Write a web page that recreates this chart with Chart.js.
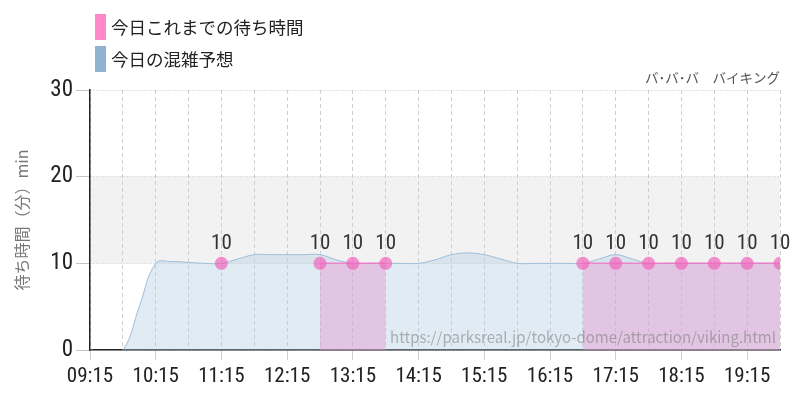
<!DOCTYPE html>
<html>
<head>
<meta charset="utf-8">
<script src="https://cdn.jsdelivr.net/npm/chart.js@4/dist/chart.umd.min.js"></script>
<style>
  body { margin: 0; background: #fff; }
</style>
</head>
<body>
<canvas id="waitChart" width="800" height="400"></canvas>
<script>
// x axis tick labels (hourly)
const hourLabels = ['09:15', '10:15', '11:15', '12:15', '13:15', '14:15', '15:15', '16:15', '17:15', '18:15', '19:15'];

// forecast (blue), every 15 min from 09:15 to 19:45
const forecastTimes = [
  '09:15', '09:30', '09:45', '10:00', '10:15', '10:30', '10:45', '11:00', '11:15', '11:30', '11:45',
  '12:00', '12:15', '12:30', '12:45', '13:00', '13:15', '13:30', '13:45', '14:00', '14:15', '14:30',
  '14:45', '15:00', '15:15', '15:30', '15:45', '16:00', '16:15', '16:30', '16:45', '17:00', '17:15',
  '17:30', '17:45', '18:00', '18:15', '18:30', '18:45', '19:00', '19:15', '19:30', '19:45'
];
const forecastWait = [
  0, -0.2, 0, 5, 10, 10.2, 10.1, 10, 10, 10.5, 11,
  11, 11, 11, 11, 10.4, 10, 10, 10, 10, 10, 10.4,
  11, 11.2, 11, 10.5, 10, 10, 10, 10, 10, 10.5, 11,
  10.5, 10, 10, 10, 10, 10, 10, 10, 10, 10
];

// actual waits so far (pink), every 30 min, null = no data
const actualTimes = ['11:15', '11:45', '12:15', '12:45', '13:15', '13:45', '14:15', '14:45', '15:15', '15:45',
  '16:15', '16:45', '17:15', '17:45', '18:15', '18:45', '19:15', '19:45'];
const actualWait = [10, null, null, 10, 10, 10, null, null, null, null, null, 10, 10, 10, 10, 10, 10, 10];

const yTicks = [0, 10, 20, 30];

const NUM_FONT = "'Roboto Condensed', 'Liberation Sans Narrow', 'DejaVu Sans Condensed', sans-serif";
const JP_FONT = "'Noto Sans CJK JP', sans-serif";

function toMin(t) {
  const [h, m] = t.split(':').map(Number);
  return (h * 60 + m) - (9 * 60 + 15);
}

// gray band 10-20, drawn before the grid
const bandPlugin = {
  id: 'band',
  beforeDraw(chart) {
    const { ctx, chartArea, scales } = chart;
    const top = scales.y.getPixelForValue(20);
    const bottom = scales.y.getPixelForValue(10);
    ctx.save();
    ctx.fillStyle = '#f2f2f2';
    ctx.fillRect(chartArea.left, top, chartArea.right - chartArea.left, bottom - top);
    ctx.restore();
  }
};

// "10" labels above the pink points, legend, name and url
const textPlugin = {
  id: 'texts',
  afterDatasetsDraw(chart) {
    const ctx = chart.ctx;
    ctx.save();
    const meta = chart.getDatasetMeta(0);
    ctx.font = '21px ' + NUM_FONT;
    ctx.fillStyle = '#333';
    ctx.textAlign = 'center';
    ctx.textBaseline = 'middle';
    meta.data.forEach((pt, i) => {
      const v = chart.data.datasets[0].data[i].y;
      if (v === null) return;
      ctx.fillText(v, pt.x, pt.y - 20);
    });

    // url watermark
    ctx.font = '15px ' + JP_FONT;
    ctx.fillStyle = 'rgba(120,120,120,0.55)';
    ctx.textAlign = 'right';
    ctx.textBaseline = 'middle';
    ctx.fillText('https://parksreal.jp/tokyo-dome/attraction/viking.html', 776, 337);
    ctx.restore();
  },
  afterDraw(chart) {
    const ctx = chart.ctx;
    ctx.save();
    // legend
    const items = [
      { color: '#ff88c8', text: '今日これまでの待ち時間', y: 27 },
      { color: '#8fb3d1', text: '今日の混雑予想', y: 59 }
    ];
    ctx.font = '17.5px ' + JP_FONT;
    ctx.textBaseline = 'middle';
    ctx.textAlign = 'left';
    items.forEach(it => {
      ctx.fillStyle = it.color;
      ctx.fillRect(95, it.y - 13, 11, 26);
      ctx.fillStyle = '#222';
      ctx.fillText(it.text, 111, it.y);
    });
    // attraction name
    ctx.font = '13.5px ' + JP_FONT;
    ctx.fillStyle = '#555';
    ctx.textAlign = 'right';
    ctx.fillText('バ･バ･バ　バイキング', 780, 78);
    ctx.restore();
  }
};

new Chart(document.getElementById('waitChart'), {
  type: 'line',
  data: {
    datasets: [{
      label: '今日これまでの待ち時間',
      data: actualTimes.map((t, i) => ({ x: toMin(t), y: actualWait[i] })),
      borderColor: 'rgba(240,120,200,0.85)',
      borderWidth: 1.5,
      backgroundColor: 'rgba(228,150,205,0.45)',
      fill: 'origin',
      tension: 0,
      spanGaps: false,
      pointRadius: 6.5,
      pointHoverRadius: 6.5,
      pointBorderWidth: 0,
      pointBackgroundColor: 'rgba(240,105,190,0.72)'
    }, {
      label: '今日の混雑予想',
      data: forecastTimes.map((t, i) => ({ x: toMin(t), y: forecastWait[i] })),
      borderColor: 'rgba(150,185,215,0.9)',
      borderWidth: 1,
      backgroundColor: 'rgba(180,205,228,0.4)',
      fill: 'origin',
      tension: 0.4,
      pointRadius: 0
    }]
  },
  options: {
    responsive: false,
    animation: false,
    layout: { padding: { top: 90, right: 20, left: 0, bottom: 0 } },
    plugins: {
      legend: { display: false },
      tooltip: { enabled: false }
    },
    scales: {
      x: {
        type: 'linear',
        min: 0,
        max: 630,
        afterFit: s => { s.height = 50; },
        ticks: {
          stepSize: 30,
          autoSkip: false,
          maxRotation: 0,
          color: '#222',
          padding: 4,
          font: { family: NUM_FONT, size: 21 },
          callback: v => (v % 60 === 0 ? hourLabels[v / 60] : '')
        },
        grid: {
          color: '#cfcfcf',
          tickLength: 10,
          tickColor: c => (c.tick && c.tick.value % 60 === 0 ? '#cfcfcf' : 'rgba(0,0,0,0)'),
          tickBorderDash: []
        },
        border: { color: '#222', width: 1.5, dash: [4, 3] }
      },
      y: {
        min: 0,
        max: 30,
        afterFit: s => { s.width = 90; },
        afterBuildTicks: s => { s.ticks = yTicks.map(v => ({ value: v })); },
        ticks: {
          color: '#222',
          padding: 3,
          font: { family: NUM_FONT, size: 23 }
        },
        grid: {
          color: '#c4c4c4',
          tickLength: 14,
          tickColor: '#c4c4c4',
          tickBorderDash: []
        },
        border: { color: '#222', width: 1.5, dash: [1, 2] },
        title: {
          display: true,
          text: '待ち時間（分）min',
          color: '#777',
          font: { family: JP_FONT, size: 16 },
          padding: { top: 12, bottom: 0 }
        }
      }
    }
  },
  plugins: [bandPlugin, textPlugin]
});
</script>
</body>
</html>
